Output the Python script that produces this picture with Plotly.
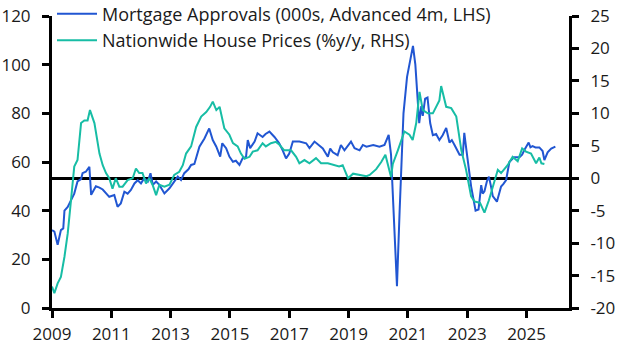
import plotly.graph_objects as go

# Mortgage approvals (000s, advanced 4m) - LHS
mort_x = [2009.00, 2009.08, 2009.19, 2009.30, 2009.38, 2009.42, 2009.53, 2009.64, 2009.75, 2009.86,
          2009.98, 2010.03, 2010.14, 2010.26, 2010.32, 2010.48, 2010.60, 2010.71, 2010.93, 2011.10,
          2011.21, 2011.32, 2011.44, 2011.55, 2011.66, 2011.78, 2011.89, 2012.00, 2012.11, 2012.23,
          2012.32, 2012.40, 2012.51, 2012.62, 2012.79, 2012.96, 2013.07, 2013.24, 2013.35, 2013.46,
          2013.60, 2013.69, 2013.80, 2013.97, 2014.14, 2014.30, 2014.42, 2014.54, 2014.67, 2014.74,
          2014.87, 2014.98, 2015.10, 2015.20, 2015.32, 2015.43, 2015.54, 2015.60, 2015.68, 2015.83,
          2015.93, 2016.10, 2016.20, 2016.33, 2016.50, 2016.66, 2016.77, 2016.89, 2017.00, 2017.12,
          2017.34, 2017.57, 2017.68, 2017.85, 2018.13, 2018.30, 2018.38, 2018.47, 2018.63, 2018.74,
          2018.86, 2018.97, 2019.08, 2019.20, 2019.37, 2019.48, 2019.60, 2019.83, 2020.04, 2020.21,
          2020.35, 2020.43, 2020.55, 2020.63, 2020.72, 2020.85, 2020.97, 2021.17, 2021.25, 2021.33,
          2021.38, 2021.45, 2021.50, 2021.58, 2021.66, 2021.75, 2021.84, 2021.95, 2022.06, 2022.17,
          2022.29, 2022.40, 2022.48, 2022.57, 2022.66, 2022.74, 2022.85, 2022.90, 2022.96, 2023.00,
          2023.13, 2023.22, 2023.28, 2023.38, 2023.47, 2023.52, 2023.58, 2023.66, 2023.73, 2023.80,
          2023.86, 2024.00, 2024.14, 2024.22, 2024.31, 2024.42, 2024.50, 2024.58, 2024.76, 2024.85,
          2024.93, 2025.07, 2025.13, 2025.20, 2025.30, 2025.43, 2025.54, 2025.60, 2025.71, 2025.83,
          2025.97]
mort_y = [32, 31.4, 26, 32, 32.7, 40, 41.5, 44.4, 47, 52,
          53, 55.4, 56, 58, 46.5, 50, 49.5, 48.7, 45.7, 46.4,
          41.6, 43, 47.8, 47, 48.5, 51.2, 52.5, 51.2, 53.3, 52,
          55.4, 50.6, 52, 50.6, 47.1, 49.2, 51.2, 54, 52.6, 55.4,
          57, 58.8, 59.2, 66.3, 69.7, 73.8, 69, 66.3, 62.2, 67.7,
          65.7, 62.2, 60.1, 60.5, 58.8, 61.6, 62, 69, 65.7, 68.4,
          71.8, 70.3, 71.5, 72.5, 70.3, 67.7, 65, 61.5, 63.5, 68.4,
          68.4, 67.7, 65.7, 68.4, 65.6, 62.2, 65.5, 64, 62.8, 67,
          64.8, 66.5, 68.4, 65.7, 64.8, 67, 66.3, 67, 66.3, 67,
          71.1, 63, 30, 9, 40, 80, 95, 107.7, 100, 85,
          76, 83, 79, 86, 86.5, 76, 71, 71.5, 69, 71,
          74, 68, 69, 67, 65, 63, 63, 72, 66, 62,
          50, 44, 40, 40.5, 50.5, 47, 48, 52, 54, 50,
          46, 43.7, 49.9, 51, 52.6, 60, 61, 62, 62, 63,
          65, 68, 66, 66.5, 66, 66, 64.5, 60.8, 64, 65.5,
          66.3]

# Nationwide house prices (%y/y) - RHS
hp_x = [2009.00, 2009.08, 2009.19, 2009.30, 2009.42, 2009.53, 2009.64, 2009.75, 2009.86, 2009.98,
        2010.09, 2010.20, 2010.28, 2010.43, 2010.60, 2010.71, 2010.82, 2010.93, 2011.04, 2011.15,
        2011.27, 2011.38, 2011.55, 2011.72, 2011.83, 2011.94, 2012.05, 2012.17, 2012.28, 2012.39,
        2012.51, 2012.62, 2012.79, 2012.96, 2013.12, 2013.29, 2013.41, 2013.52, 2013.69, 2013.86,
        2014.03, 2014.20, 2014.33, 2014.42, 2014.54, 2014.65, 2014.81, 2014.98, 2015.10, 2015.26,
        2015.37, 2015.49, 2015.66, 2015.77, 2015.93, 2016.10, 2016.21, 2016.38, 2016.55, 2016.66,
        2016.83, 2017.06, 2017.23, 2017.34, 2017.51, 2017.68, 2017.90, 2018.07, 2018.30, 2018.45,
        2018.68, 2018.80, 2018.92, 2018.98, 2019.15, 2019.37, 2019.60, 2019.71, 2019.93, 2020.10,
        2020.24, 2020.43, 2020.49, 2020.66, 2020.88, 2021.05, 2021.16, 2021.28, 2021.39, 2021.50,
        2021.67, 2021.84, 2022.06, 2022.12, 2022.29, 2022.46, 2022.63, 2022.80, 2022.96, 2023.13,
        2023.25, 2023.43, 2023.58, 2023.73, 2023.86, 2024.03, 2024.14, 2024.36, 2024.53, 2024.70,
        2024.85, 2024.98, 2025.15, 2025.32, 2025.43, 2025.50, 2025.60]
hp_y = [-16.7, -17.7, -16.2, -15.2, -12.1, -8.5, -3.4, 1.8, 2.8, 8.5,
        8.9, 8.9, 10.5, 8.5, 3.8, 2.0, 0.8, 0, -1.6, 0,
        -1.3, -1.3, -0.3, 0, 1.5, 0.8, 0.8, -0.8, 0, -1.0,
        -2.6, -1.0, -1.3, -1.0, 0.5, 1.0, 2.0, 3.8, 4.9, 7.9,
        9.5, 10.2, 11.0, 11.8, 10.5, 11.0, 7.7, 6.7, 5.4, 4.9,
        3.8, 3.0, 3.3, 4.1, 4.3, 5.4, 4.9, 5.4, 5.6, 5.2,
        4.3, 4.3, 3.3, 2.3, 2.8, 2.3, 3.1, 2.3, 2.3, 2.1,
        1.8, 2.0, 0.7, 0, 0.7, 0.5, 0.3, 0.5, 1.4, 2.5,
        3.6, 0.2, 2.2, 4.3, 7.2, 6.7, 5.9, 8.5, 13.3, 10.5,
        10.0, 10.0, 12.0, 14.2, 11.0, 10.8, 9.5, 4.3, 1.3, -2.8,
        -3.6, -3.8, -5.3, -3.4, -1.3, 1.3, 0.8, 2.0, 3.3, 2.6,
        4.6, 4.1, 3.8, 2.3, 3.2, 2.3, 2.2]

x_ticks = [2009, 2011, 2013, 2015, 2017, 2019, 2021, 2023, 2025]
y_ticks = [0, 20, 40, 60, 80, 100, 120]
y2_ticks = [-20, -15, -10, -5, 0, 5, 10, 15, 20, 25]
y2_labels = ["-20", "-15", "-10", "-5", "0", "5", "10", "15", "20", "25"]

names = ["Mortgage Approvals (000s, Advanced 4m, LHS)", "Nationwide House Prices (%y/y, RHS)"]
BLUE = "#2156D2"
TEAL = "#17BDA5"
FONT = "Open Sans"

fig = go.Figure()
fig.add_trace(go.Scatter(x=mort_x, y=mort_y, mode="lines", name=names[0],
                         line=dict(color=BLUE, width=2), yaxis="y", legendgroup="a"))
fig.add_trace(go.Scatter(x=hp_x, y=hp_y, mode="lines", name=names[1],
                         line=dict(color=TEAL, width=2), yaxis="y2", legendgroup="b"))

axis_common = dict(showgrid=False, showline=True, linecolor="black", linewidth=3,
                   ticks="outside", ticklen=7, tickwidth=2.5, tickcolor="black", automargin=False,
                   tickfont=dict(family=FONT, size=17, color="#1a1a1a"))

fig.update_layout(
    width=629, height=355,
    margin=dict(l=52, r=60, t=16, b=47, autoexpand=False),
    plot_bgcolor="white", paper_bgcolor="white",
    font=dict(family=FONT, size=17, color="#1a1a1a"),
    xaxis=dict(range=[2009, 2026.43], tickvals=x_ticks, ticktext=[str(v) for v in x_ticks],
               mirror=False, ticklabelstandoff=2, **axis_common),
    yaxis=dict(range=[0, 120], tickvals=y_ticks, ticklabelstandoff=8, **axis_common),
    yaxis2=dict(range=[-20, 25], tickvals=y2_ticks, ticktext=y2_labels, overlaying="y",
                side="right", zeroline=True, zerolinecolor="black", zerolinewidth=3,
                ticklabelstandoff=8, **axis_common),
    legend=dict(x=0.0, y=1.07, xanchor="left", yanchor="top", bgcolor="rgba(0,0,0,0)",
                tracegroupgap=0, itemwidth=40,
                font=dict(family=FONT, size=18, color="#1a1a1a")),
    showlegend=True,
)

fig.write_html("out.html", post_script="document.body.style.margin='0';",
               config={"displayModeBar": False})
